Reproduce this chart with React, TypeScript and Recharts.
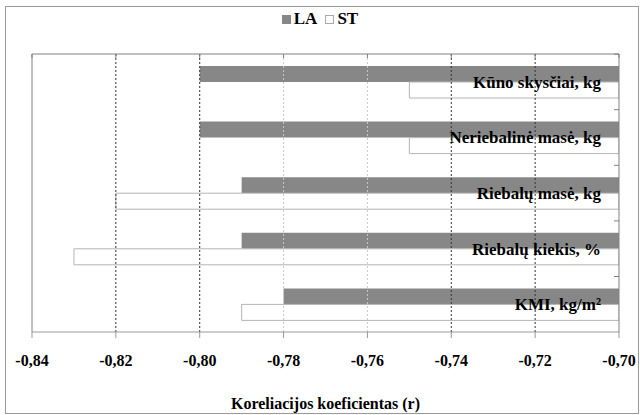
import { BarChart, Bar, XAxis, YAxis, ReferenceLine, Label } from "recharts";

const categories = [
  "Kūno skysčiai, kg",
  "Neriebalinė masė, kg",
  "Riebalų masė, kg",
  "Riebalų kiekis, %",
  "KMI, kg/m²",
];
const laValues = [-0.8, -0.8, -0.79, -0.79, -0.78];
const stValues = [-0.75, -0.75, -0.82, -0.83, -0.79];
const xTicks = [-0.84, -0.82, -0.8, -0.78, -0.76, -0.74, -0.72, -0.7];
const darkGrid = [-0.82, -0.8, -0.74, -0.72];
const lightGrid = [-0.78, -0.76];

const chartData = categories.map((name, i) => ({ name, LA: laValues[i], ST: stValues[i] }));

const SERIF = "Liberation Serif, DejaVu Serif, Noto Serif, Times New Roman, serif";
const W = 640;
const H = 415;
const MARGIN = { top: 54, right: 20, bottom: 3, left: 31 };
const X_AXIS_H = 80;
const BAND = (H - MARGIN.top - 1 - MARGIN.bottom - X_AXIS_H) / categories.length;

const fmt = (v: number) => v.toFixed(2).replace(".", ",");

const CategoryTick = ({ x, y, payload }: any) => (
  <g>
    <line x1={x - 5} x2={x} y1={y - BAND / 2} y2={y - BAND / 2} stroke="#808080" />
    <text x={x - 18} y={y} dy={6} textAnchor="end" fontFamily={SERIF} fontWeight="bold" fontSize={17} fill="#000">
      {payload.value}
    </text>
  </g>
);

const ChartLegend = () => (
  <div
    style={{
      position: "absolute", top: 9, left: 0, width: W,
      display: "flex", justifyContent: "center", alignItems: "center",
      fontFamily: SERIF, fontWeight: "bold", fontSize: 17, lineHeight: "20px",
    }}
  >
    <span style={{ width: 7, height: 7, background: "#878787", border: "1px solid #878787", marginRight: 3 }} />
    <span style={{ marginRight: 8 }}>LA</span>
    <span style={{ width: 7, height: 7, background: "#fff", border: "1px solid #aaa", marginRight: 3 }} />
    <span>ST</span>
  </div>
);

export default function App() {
  return (
    <div style={{ position: "absolute", left: 0, top: 0, width: W, height: H, background: "#fff" }}>
      <div style={{ position: "absolute", left: 5, top: 6, width: 632, height: 406, border: "1px solid #999" }} />
      <ChartLegend />
      <BarChart
        width={W}
        height={H}
        data={chartData}
        layout="vertical"
        margin={MARGIN}
        barSize={16}
        barGap={0}
      >
        <XAxis
          type="number"
          domain={[-0.84, -0.7]}
          ticks={xTicks}
          allowDataOverflow
          height={X_AXIS_H}
          stroke="#999"
          tickSize={6}
          tickMargin={17}
          tickFormatter={fmt}
          tick={{ fill: "#000", fontFamily: SERIF, fontWeight: "bold", fontSize: 16 }}
        >
          <Label
            value="Koreliacijos koeficientas (r)"
            position="insideBottom"
            offset={3}
            style={{ fill: "#000", fontFamily: SERIF, fontWeight: "bold", fontSize: 16 }}
          />
        </XAxis>
        <XAxis
          xAxisId="top"
          orientation="top"
          type="number"
          domain={[-0.84, -0.7]}
          ticks={xTicks}
          allowDataOverflow
          height={1}
          mirror
          stroke="#808080"
          tickSize={4}
          tickFormatter={() => ""}
        />
        <YAxis
          type="category"
          dataKey="name"
          orientation="right"
          width={1}
          stroke="#808080"
          tickLine={false}
          tickSize={0}
          tickMargin={0}
          tick={<CategoryTick />}
        />
        <YAxis yAxisId="left" type="category" dataKey="name" orientation="left" width={1} stroke="#808080" tick={false} tickLine={false} />
        {lightGrid.map((v) => (
          <ReferenceLine key={v} x={v} stroke="#c8c8c8" strokeDasharray="2 2" />
        ))}
        {darkGrid.map((v) => (
          <ReferenceLine key={v} x={v} stroke="#333" strokeDasharray="2 2" />
        ))}
        <Bar dataKey="LA" fill="#878787" isAnimationActive={false} />
        <Bar dataKey="ST" fill="#fff" stroke="#b4b4b4" isAnimationActive={false} />
      </BarChart>
    </div>
  );
}
